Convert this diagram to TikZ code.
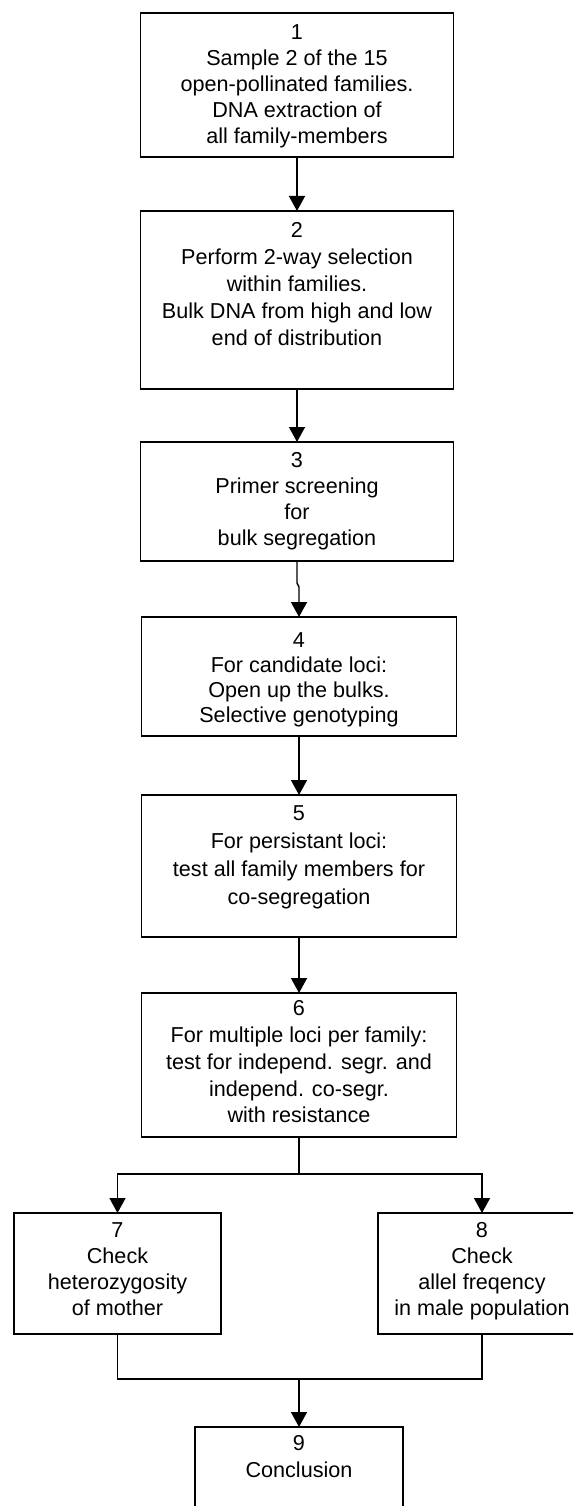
\documentclass[tikz,border=0pt]{standalone}
\usepackage{fontspec}
\setmainfont{Liberation Sans}
\usetikzlibrary{arrows.meta}
\begin{document}
\begin{tikzpicture}[x=1pt,y=-1pt,
  box/.style={draw, line width=1.6pt, rectangle, inner sep=0pt, outer sep=0pt},
  txt/.style={anchor=north, align=center, inner sep=0pt, font=\fontsize{21.6}{#1}\selectfont},
  flow/.style={line width=1.4pt, -{Triangle[width=16pt,length=15pt]}},
  link/.style={line width=1.4pt}]
\useasboundingbox (0,0) rectangle (573,1506);
\clip (0,0) rectangle (573,1506);
% boxes
\node[box, minimum width=313pt, minimum height=144pt] (b1) at (297,85) {};
\node[box, minimum width=313pt, minimum height=178pt] (b2) at (297,300) {};
\node[box, minimum width=313pt, minimum height=119pt] (b3) at (297,501.5) {};
\node[box, minimum width=315pt, minimum height=119pt] (b4) at (299,676.5) {};
\node[box, minimum width=315pt, minimum height=142pt] (b5) at (299,866) {};
\node[box, minimum width=315pt, minimum height=144pt] (b6) at (299,1065) {};
\node[box, minimum width=207pt, minimum height=121pt] (b7) at (117.5,1273.5) {};
\node[box, minimum width=208pt, minimum height=121pt] (b8) at (482,1273.5) {};
\node[box, minimum width=208pt, minimum height=100pt] (b9) at (299,1477) {};
% texts
\node[txt=26, yshift=-11.5pt] (t1) at (b1.north) {1\\Sample 2 of the 15\\open-pollinated families.\\DNA extraction of\\all family-members};
\node[txt=27, yshift=-11.5pt] (t2) at (b2.north) {2\\Perform 2-way selection\\within families.\\Bulk DNA from high and low\\end of distribution};
\node[txt=26, yshift=-10.5pt] (t3) at (b3.north) {3\\Primer screening\\for\\bulk segregation};
\node[txt=25, yshift=-15pt] (t4) at (b4.north) {4\\For candidate loci:\\Open up the bulks.\\Selective genotyping};
\node[txt=28, yshift=-10.5pt] (t5) at (b5.north) {5\\For persistant loci:\\test all family members for\\co-segregation};
\node[txt=26.8, yshift=-7.5pt] (t6) at (b6.north) {6\\For multiple loci per family:\\test for independ. segr. and\\independ. co-segr.\\with resistance};
\node[txt=26, yshift=-9.5pt] (t7) at (b7.north) {7\\Check\\heterozygosity\\of mother};
\node[txt=26, yshift=-9.5pt] (t8) at (b8.north) {8\\Check\\allel freqency\\in male population};
\node[txt=27, yshift=-8.5pt] (t9) at (b9.north) {9\\Conclusion};
% connectors
\draw[flow] (b1.south) -- (b2.north);
\draw[flow] (b2.south) -- (b3.north);
\draw[flow] (b3.south) -- ++(0,22) -- ++(2,4) -- (b4.north);
\draw[flow] (b4.south) -- (b5.north);
\draw[flow] (b5.south) -- (b6.north);
\coordinate (split) at (299,1174);
\coordinate (merge) at (299,1379);
\draw[link] (b6.south) -- (split);
\draw[flow] (split) -| (b7.north);
\draw[flow] (split) -| (b8.north);
\draw[link] (b7.south) |- (merge);
\draw[link] (b8.south) |- (merge);
\draw[flow] (merge) -- (b9.north);
\end{tikzpicture}
\end{document}
